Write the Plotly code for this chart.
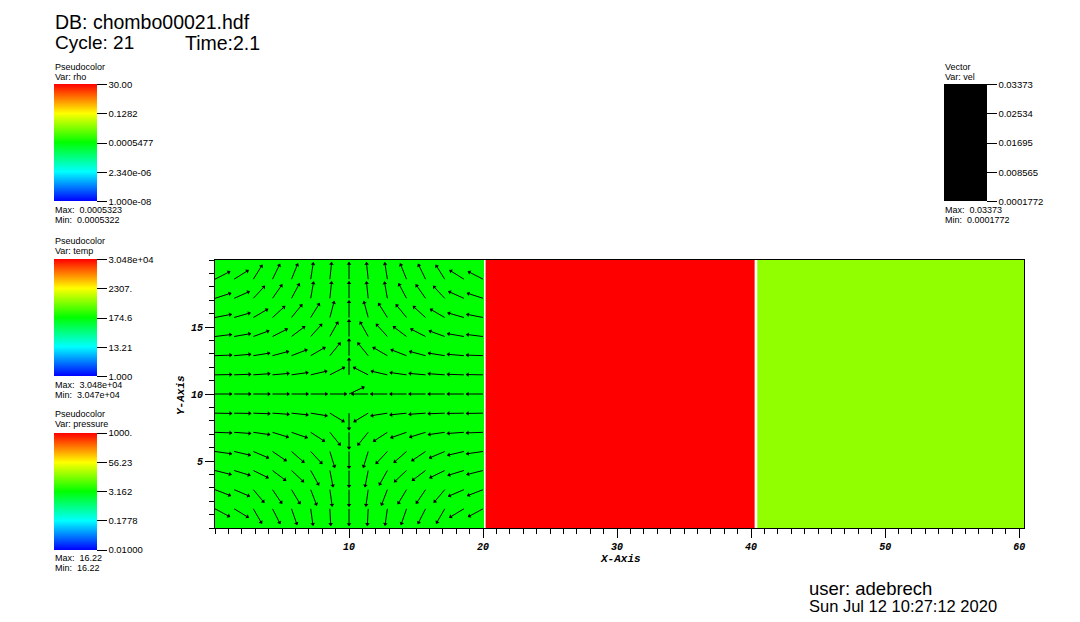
import math
import plotly.graph_objects as go

# ---------------- data ----------------
# three patches, each drawn with a pseudocolor plot of one variable
patch_x0 = [0.0, 20.19, 40.46]
patch_x1 = [20.05, 40.26, 60.36]
patch_y0 = 0.0
patch_y1 = 20.0
rho_value = 0.00053225
temp_value = 30475.0
pressure_value = 16.22

rho_min, rho_max = 1.0e-08, 30.0
temp_min, temp_max = 1.0, 30480.0
pres_min, pres_max = 0.01, 1000.0
vel_min, vel_max = 0.0001772, 0.03373

rho_ticks = [30.0, 0.1282, 0.0005477, 2.340e-06, 1.0e-08]
rho_ticktext = ["30.00", "0.1282", "0.0005477", "2.340e-06", "1.000e-08"]
temp_ticks = [30480.0, 2307.0, 174.6, 13.21, 1.0]
temp_ticktext = ["3.048e+04", "2307.", "174.6", "13.21", "1.000"]
pres_ticks = [1000.0, 56.23, 3.162, 0.1778, 0.01]
pres_ticktext = ["1000.", "56.23", "3.162", "0.1778", "0.01000"]
vel_ticks = [0.03373, 0.02534, 0.01695, 0.008565, 0.0001772]
vel_ticktext = ["0.03373", "0.02534", "0.01695", "0.008565", "0.0001772"]

# vector glyph grid (tail positions) and directions in degrees
vec_x = [0.0, 1.43, 2.86, 4.29, 5.71, 7.14, 8.57, 10.0, 11.43, 12.86, 14.29, 15.71, 17.14, 18.57, 20.0]
vec_y = [18.57, 17.14, 15.71, 14.29, 12.86, 11.43, 10.0, 8.57, 7.14, 5.71, 4.29, 2.86, 1.43]
vec_angle_y1857 = [27, 32, 58, 64, 68, 81, 84, 90, 96, 99, 112, 116, 122, 148, 153]
vec_angle_y1714 = [18, 24, 47, 55, 62, 80, 84, 90, 96, 100, 118, 125, 133, 156, 162]
vec_angle_y1571 = [11, 16, 30, 42, 51, 58, 75, 90, 105, 122, 129, 138, 150, 164, 169]
vec_angle_y1429 = [7, 10, 20, 27, 37, 48, 61, 90, 119, 132, 143, 153, 160, 170, 173]
vec_angle_y1286 = [2, 5, 9, 15, 21, 30, 51, 90, 129, 150, 159, 165, 171, 175, 178]
vec_angle_y1143 = [1, 2, 4, 5, 8, 13, 27, 90, 153, 167, 172, 175, 176, 178, 179]
vec_angle_y1000 = [0, 0, 0, 0, 0, 0, 0, 25, 180, 180, 180, 180, 180, 180, 180]
vec_angle_y0857 = [-1, -1, -2, -4, -6, -9, -31, -90, -149, -171, -174, -176, -178, -179, -179]
vec_angle_y0714 = [-2, -4, -8, -17, -19, -33, -51, -90, -129, -147, -161, -163, -172, -176, -178]
vec_angle_y0571 = [-8, -13, -23, -34, -41, -47, -73, -90, -107, -133, -139, -146, -157, -167, -172]
vec_angle_y0429 = [-14, -17, -26, -37, -43, -61, -79, -90, -101, -119, -137, -143, -154, -163, -166]
vec_angle_y0286 = [-21, -23, -50, -56, -59, -69, -82, -90, -98, -111, -121, -124, -130, -157, -159]
vec_angle_y0143 = [-28, -31, -60, -63, -71, -82, -87, -90, -93, -98, -109, -117, -120, -149, -152]
vec_angles = [vec_angle_y1857, vec_angle_y1714, vec_angle_y1571, vec_angle_y1429,
              vec_angle_y1286, vec_angle_y1143, vec_angle_y1000, vec_angle_y0857,
              vec_angle_y0714, vec_angle_y0571, vec_angle_y0429, vec_angle_y0286,
              vec_angle_y0143]
vec_len = 1.25

x_tickvals = [10, 20, 30, 40, 50, 60]
y_tickvals = [5, 10, 15]

# ---------------- layout helpers ----------------
# the page body adds an 8px offset to the figure; positions below are page pixels
OFF = 8
W, H = 1080, 622
PW, PH = 809, 268
ML = 215 - OFF
MT = 260 - OFF
MR = W - ML - PW
MB = H - MT - PH


def px2x(px):
    return (px - OFF - ML) / PW


def px2y(py):
    return (H - MB - (py - OFF)) / PH


hot = [[0.0, "rgb(0,0,255)"], [0.25, "rgb(0,255,255)"], [0.5, "rgb(0,255,0)"],
       [0.75, "rgb(255,255,0)"], [1.0, "rgb(255,0,0)"]]
black_scale = [[0.0, "black"], [1.0, "black"]]

LEG_FONT = dict(family="Liberation Sans", size=9.5, color="black")


def cbar(top_px, left_px, tickvals, ticktext):
    return dict(
        xref="paper", yref="paper",
        x=px2x(left_px), xanchor="left",
        y=px2y(top_px), yanchor="top",
        len=117, lenmode="pixels",
        thickness=43, thicknessmode="pixels",
        xpad=0, ypad=0, outlinewidth=0,
        tickmode="array", tickvals=tickvals, ticktext=ticktext,
        ticks="outside", ticklen=10, tickwidth=1, tickcolor="black",
        tickfont=LEG_FONT,
    )


fig = go.Figure()

log = math.log10
patch_vars = [
    (rho_value, rho_min, rho_max, rho_ticks, rho_ticktext, 84.5),
    (temp_value, temp_min, temp_max, temp_ticks, temp_ticktext, 259.5),
    (pressure_value, pres_min, pres_max, pres_ticks, pres_ticktext, 433.0),
]
for i, (val, vmin, vmax, tv, tt, top) in enumerate(patch_vars):
    fig.add_trace(go.Heatmap(
        x=[patch_x0[i], patch_x1[i]], y=[patch_y0, patch_y1], z=[[log(val)]],
        zmin=log(vmin), zmax=log(vmax), colorscale=hot,
        showscale=True, hoverinfo="skip",
        colorbar=cbar(top, 54, [log(t) for t in tv], tt),
    ))

# vectors
lx, ly, hx, hy, ha = [], [], [], [], []
for r, yv in enumerate(vec_y):
    for c, xv in enumerate(vec_x):
        a = math.radians(vec_angles[r][c])
        x1 = xv + vec_len * math.cos(a)
        y1 = yv + vec_len * math.sin(a)
        lx += [xv, x1, None]
        ly += [yv, y1, None]
        hx.append(xv + (vec_len - 0.1) * math.cos(a))
        hy.append(yv + (vec_len - 0.1) * math.sin(a))
        ha.append(90 - vec_angles[r][c])

fig.add_trace(go.Scatter(x=lx, y=ly, mode="lines",
                         line=dict(color="black", width=1),
                         hoverinfo="skip", showlegend=False))
fig.add_trace(go.Scatter(
    x=hx, y=hy, mode="markers", hoverinfo="skip", showlegend=False,
    marker=dict(symbol="triangle-up", size=4, angle=ha,
                color=[vel_min] * len(hx), cmin=vel_min, cmax=vel_max,
                colorscale=black_scale, line=dict(width=0),
                showscale=True,
                colorbar=cbar(84.5, 944, vel_ticks, vel_ticktext)),
))

AX_FONT = dict(family="Liberation Mono", size=11, color="black",
               weight="bold", style="italic")
TICK_FONT = dict(family="Liberation Mono", size=10, color="black",
                 weight="bold", style="italic")
axis_common = dict(
    showgrid=False, zeroline=False, showline=True, mirror=True,
    linecolor="black", linewidth=1,
    ticks="outside", ticklen=9, tickwidth=1, tickcolor="black",
    tickfont=TICK_FONT,
    minor=dict(ticks="outside", ticklen=5, tickwidth=1, tickcolor="black",
               tickmode="linear", tick0=0, dtick=1, showgrid=False),
)

fig.update_xaxes(range=[0, 60.36], tickmode="array", tickvals=x_tickvals,
                 ticktext=[str(v) for v in x_tickvals], **axis_common)
fig.update_yaxes(range=[0, 20], tickmode="array", tickvals=y_tickvals,
                 ticktext=[str(v) for v in y_tickvals], **axis_common)

annotations = []


def txt(s, px, py, size, family="Liberation Sans", xanchor="left", **kw):
    annotations.append(dict(
        text=s, x=px2x(px), y=px2y(py), xref="paper", yref="paper",
        xanchor=xanchor, yanchor="middle", showarrow=False,
        font=dict(family=family, size=size, color="black", **kw)))


txt("DB: chombo00021.hdf", 53, 21.5, 19.5)
txt("Cycle: 21", 53, 42.5, 19)
txt("Time:2.1", 183, 42.5, 19.5)
txt("user: adebrech", 807, 588, 18.5)
txt("Sun Jul 12 10:27:12 2020", 807, 606, 16.5)

leg_blocks = [
    ("Pseudocolor", "Var: rho", "Max:\u00a0 0.0005323", "Min:\u00a0 0.0005322", 53, 67, 210, 220),
    ("Pseudocolor", "Var: temp", "Max:\u00a0 3.048e+04", "Min:\u00a0 3.047e+04", 53, 241, 385, 395),
    ("Pseudocolor", "Var: pressure", "Max:\u00a0 16.22", "Min:\u00a0 16.22", 53, 414, 558, 568),
    ("Vector", "Var: vel", "Max:\u00a0 0.03373", "Min:\u00a0 0.0001772", 943, 67, 210, 220),
]
for t1, t2, mx, mn, lx0, ty, maxy, miny in leg_blocks:
    txt(t1, lx0, ty, 9)
    txt(t2, lx0, ty + 10, 9)
    txt(mx, lx0, maxy, 9)
    txt(mn, lx0, miny, 9)

annotations.append(dict(text="X-Axis", x=px2x(620), y=px2y(559), xref="paper", yref="paper",
                        xanchor="center", yanchor="middle", showarrow=False, font=AX_FONT))
annotations.append(dict(text="Y-Axis", x=px2x(181), y=px2y(395), xref="paper", yref="paper",
                        xanchor="center", yanchor="middle", showarrow=False, textangle=-90,
                        font=AX_FONT))

fig.update_layout(
    width=W, height=H, autosize=False,
    margin=dict(l=ML, r=MR, t=MT, b=MB, pad=0, autoexpand=False),
    paper_bgcolor="white", plot_bgcolor="white",
    showlegend=False, annotations=annotations,
    font=dict(family="Liberation Sans", color="black"),
)

fig.write_html("out.html")
